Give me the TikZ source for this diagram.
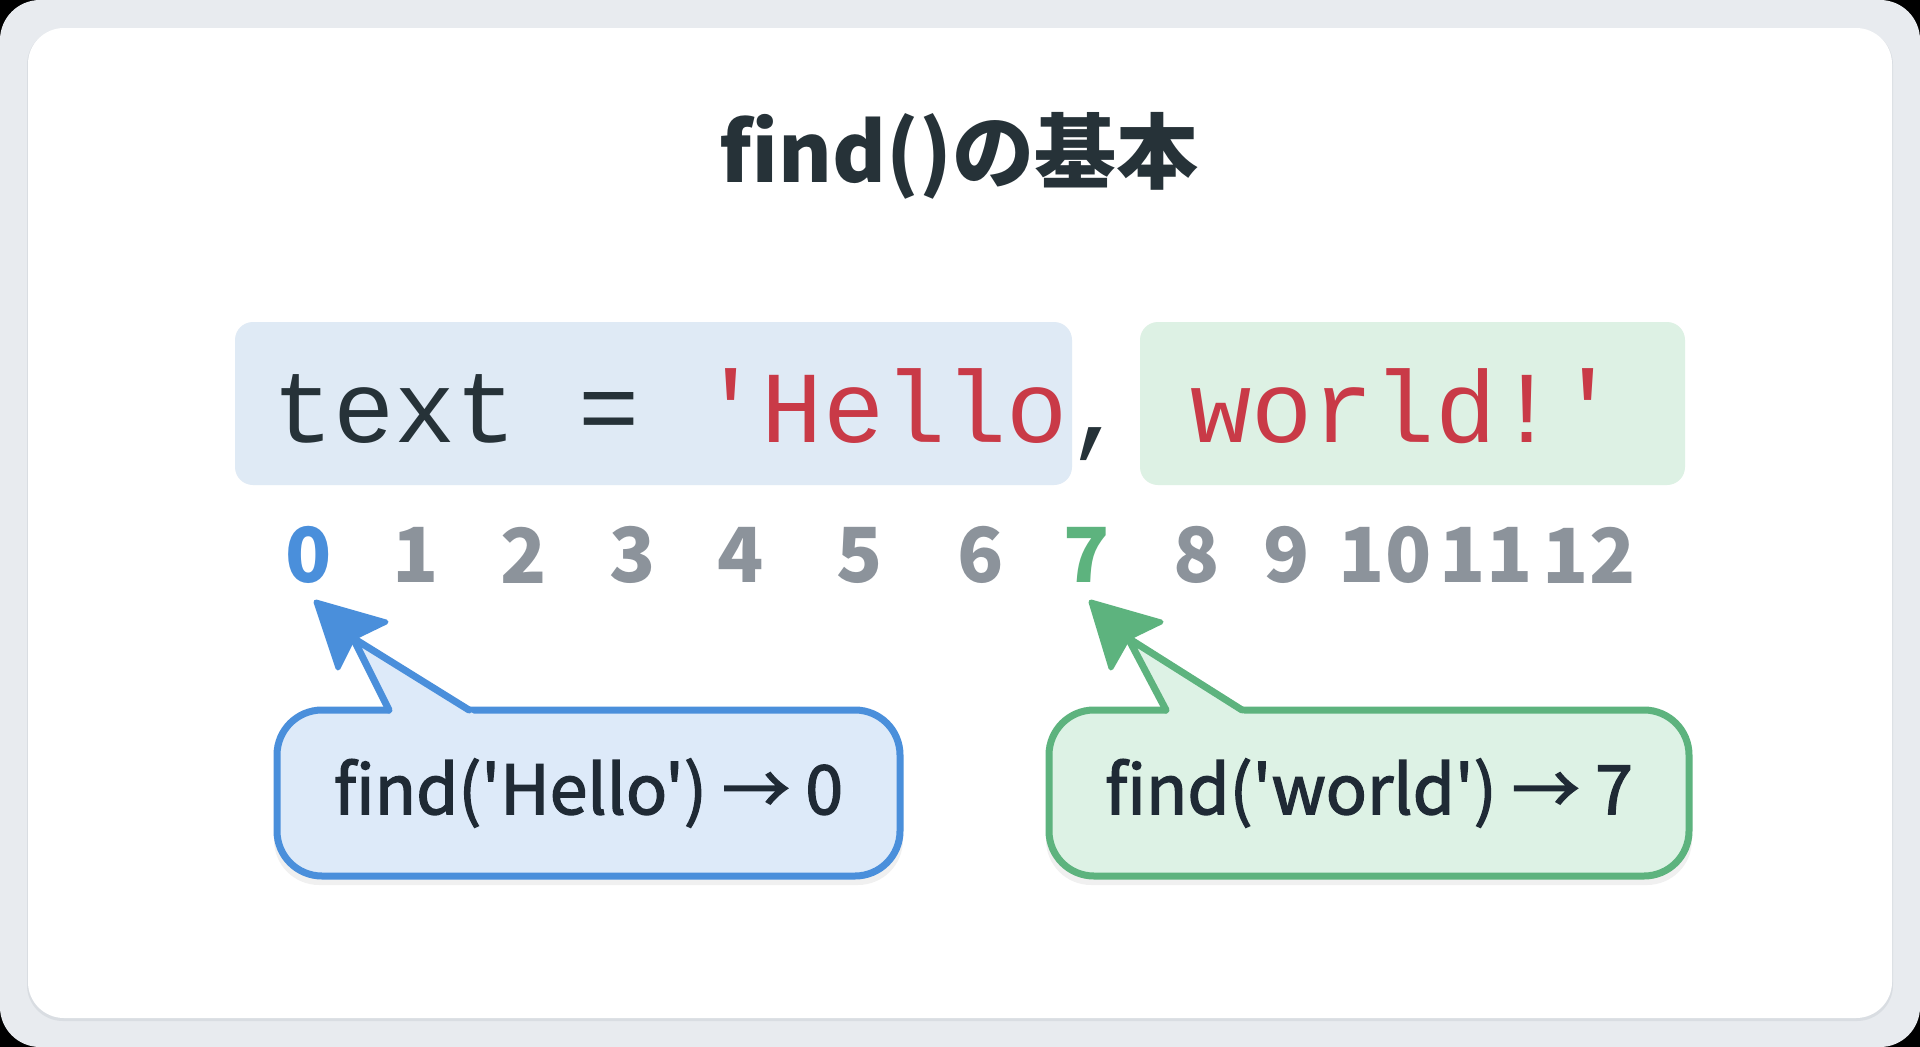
\documentclass[tikz,border=0pt]{standalone}
\usepackage{fontspec}
\newfontfamily\cjk{Noto Sans CJK JP}[Ligatures=TeXOff]
\newfontfamily\cjkm{Noto Sans CJK JP}[Ligatures=TeXOff, FakeBold=2]
\newfontfamily\code{Liberation Mono}[Ligatures=TeXOff]
\definecolor{bggray}{HTML}{E8EBEF}
\definecolor{cardshadow}{HTML}{D9DDE2}
\definecolor{titlecol}{HTML}{263238}
\definecolor{codedark}{HTML}{263238}
\definecolor{codered}{HTML}{C93A47}
\definecolor{hlblue}{HTML}{DFEAF5}
\definecolor{hlgreen}{HTML}{DDF1E4}
\definecolor{digitgray}{HTML}{8C939B}
\definecolor{cblue}{HTML}{4A8FDB}
\definecolor{cbluefill}{HTML}{DDEAF9}
\definecolor{cgreen}{HTML}{5DB37E}
\definecolor{cgreenfill}{HTML}{DDF2E5}
\definecolor{calltext}{HTML}{1F2A35}
\begin{document}
\begin{tikzpicture}[x=1pt,y=-1pt,
  codebox/.style={rounded corners=18pt, inner sep=0pt},
  digit/.style={inner sep=0pt, font=\cjk\bfseries\fontsize{76}{90}\selectfont, text=digitgray},
  callout/.style={rounded corners=45pt, line width=7pt, inner sep=0pt,
    font=\cjkm\fontsize{68}{80}\selectfont, text=calltext},
  calloutshadow/.style={rounded corners=45pt, inner sep=0pt, fill=black, fill opacity=0.06},
  shaftline/.style={line width=7pt, line join=round, line cap=round},
  headfill/.style={line width=5pt, line join=round}
]
\useasboundingbox (0,0) rectangle (1920,1047);
% background and card
\fill[black] (0,0) rectangle (1920,1047);
\fill[bggray, rounded corners=40pt] (0,0) rectangle (1920,1047);
\fill[cardshadow, rounded corners=36pt] (27,29) rectangle (1893,1021);
\fill[white, rounded corners=36pt] (28,28) rectangle (1892,1018);

% title
\node[anchor=base, inner sep=0pt, font=\cjk\bfseries\fontsize{82}{98}\selectfont, text=titlecol]
  (title) at (959,182) {find()の基本};

% code highlight boxes
\node[codebox, fill=hlblue, minimum width=837pt, minimum height=163pt] (hb) at (653.5,403.5) {};
\node[codebox, fill=hlgreen, minimum width=545pt, minimum height=163pt] (hg) at (1412.5,403.5) {};

% code text
\node[anchor=base west, inner sep=0pt, font=\code\fontsize{102}{120}\selectfont, text=codedark]
  (code) at (272,442) {text = \textcolor{codered}{'Hello},\ \textcolor{codered}{world!'}};

% indices
\node[digit, text=cblue] (d0) at (309,555) {0};
\foreach \n/\x in {1/416,2/524,3/633,4/741,5/860,6/981,8/1197,9/1287,10/1385,11/1486,12/1589}
  \node[digit] (d\n) at (\x,555) {\n};
\node[digit, text=cgreen] (d7) at (1087,555) {7};

% shadows of callouts
\node[calloutshadow, minimum width=629pt, minimum height=172pt] (cas) at (588.5,799) {};
\node[calloutshadow, minimum width=646pt, minimum height=172pt] (cgs) at (1369,799) {};

% blue callout
\node[callout, draw=cblue, fill=cbluefill, minimum width=623pt, minimum height=166pt] (ca) at (588.5,793) {find('Hello') → 0};
\coordinate (caL) at (389,710);
\coordinate (caR) at (469,710);
\coordinate (caN) at (353,638);
\coordinate (caT) at (316,602);
\fill[cbluefill] (393,719) -- (caN) -- (482,719) -- cycle;
\draw[shaftline, cblue] (caL) -- (caN) -- (caR);
\draw[headfill, draw=cblue, fill=cblue] (caT) -- (386,622) -- (caN) -- (338,668) -- cycle;

% green callout
\node[callout, draw=cgreen, fill=cgreenfill, minimum width=640pt, minimum height=166pt] (cg) at (1369,793) {find('world') → 7};
\coordinate (cgL) at (1166,710);
\coordinate (cgR) at (1242,710);
\coordinate (cgN) at (1128,638);
\coordinate (cgT) at (1091,602);
\fill[cgreenfill] (1170,719) -- (cgN) -- (1252,719) -- cycle;
\draw[shaftline, cgreen] (cgL) -- (cgN) -- (cgR);
\draw[headfill, draw=cgreen, fill=cgreen] (cgT) -- (1161,622) -- (cgN) -- (1111,668) -- cycle;
\end{tikzpicture}
\end{document}
